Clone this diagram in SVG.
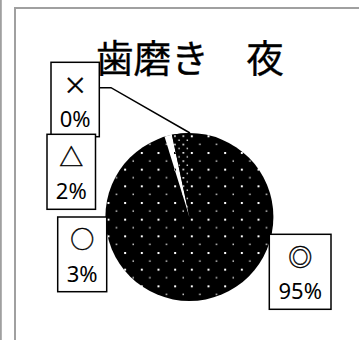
<svg xmlns="http://www.w3.org/2000/svg" width="359" height="340" viewBox="0 0 359 340">
<defs>
<style>
.frame{stroke:#a0a0a0;stroke-width:2;fill:none}
.box{fill:#fff;stroke:#000;stroke-width:1.5}
.sym{font-family:"Noto Sans CJK JP","Noto Sans",sans-serif;font-size:24px;text-anchor:middle;fill:#000;stroke:#000;stroke-width:0.4}
.num{font-family:"Noto Sans","Noto Sans CJK JP",sans-serif;font-size:22px;text-anchor:middle;fill:#000}
.title{font-family:"Noto Sans CJK JP",sans-serif;font-size:37.6px;fill:#000;stroke:#000;stroke-width:0.3}
.conn{stroke:#000;stroke-width:1.5;fill:none}
</style>
<pattern id="sparse" patternUnits="userSpaceOnUse" x="207.5" y="202" width="16.67" height="16.67">
<rect width="16.67" height="16.67" fill="#000"/>
<rect x="0" y="0" width="2" height="2" fill="#fff"/>
<rect x="8.33" y="8.33" width="1.5" height="1.5" fill="#d0d0d0"/>
</pattern>
<pattern id="sparseInv" patternUnits="userSpaceOnUse" x="174" y="152" width="16.67" height="16.67">
<rect width="16.67" height="16.67" fill="#fff"/>
<rect x="0" y="0" width="2" height="2" fill="#000"/>
</pattern>
<pattern id="dense" patternUnits="userSpaceOnUse" x="207.5" y="202" width="8.33" height="8.33">
<rect width="8.33" height="8.33" fill="#000"/>
<rect x="0" y="0" width="1.6" height="1.6" fill="#fff"/>
<rect x="4.17" y="4.17" width="1.4" height="1.4" fill="#e0e0e0"/>
</pattern>
</defs>
<rect width="359" height="340" fill="#fff"/>
<line class="frame" x1="0.8" y1="0" x2="0.8" y2="340" stroke-width="1.5"/>
<path class="frame" d="M15,340 V8 H359"/>
<text class="title" x="96" y="72">歯磨き　夜</text>
<g id="pie">
<circle cx="189.4" cy="217" r="84" fill="url(#sparse)"/>
<path d="M189.4,217 L164.56,136.75 A84,84 0 0 1 171.94,134.84 Z" fill="url(#sparseInv)"/>
<path d="M189.4,217 L171.94,134.84 A84,84 0 0 1 189.4,133 Z" fill="url(#dense)"/>
</g>
<g id="connectors">
<polyline class="conn" points="99,87.7 111,87.7 190,133"/>
</g>
<g id="label-x">
<rect class="box" x="51" y="62.3" width="48.3" height="74.4"/>
<text class="sym" x="75.2" y="94">×</text>
<text class="num" x="75.2" y="126.5">0%</text>
</g>
<g id="label-triangle">
<rect class="box" x="47" y="134.3" width="48.5" height="75"/>
<text class="sym" x="71.3" y="165.5">△</text>
<text class="num" x="71.3" y="199">2%</text>
</g>
<g id="label-circle">
<rect class="box" x="57.7" y="217" width="49" height="74.7"/>
<text class="sym" x="82.2" y="248">○</text>
<text class="num" x="82.2" y="281.5">3%</text>
</g>
<g id="label-double">
<rect class="box" x="269.3" y="234.3" width="61.7" height="75"/>
<text class="sym" x="300.2" y="265.5">◎</text>
<text class="num" x="300.2" y="299">95%</text>
</g>
</svg>
